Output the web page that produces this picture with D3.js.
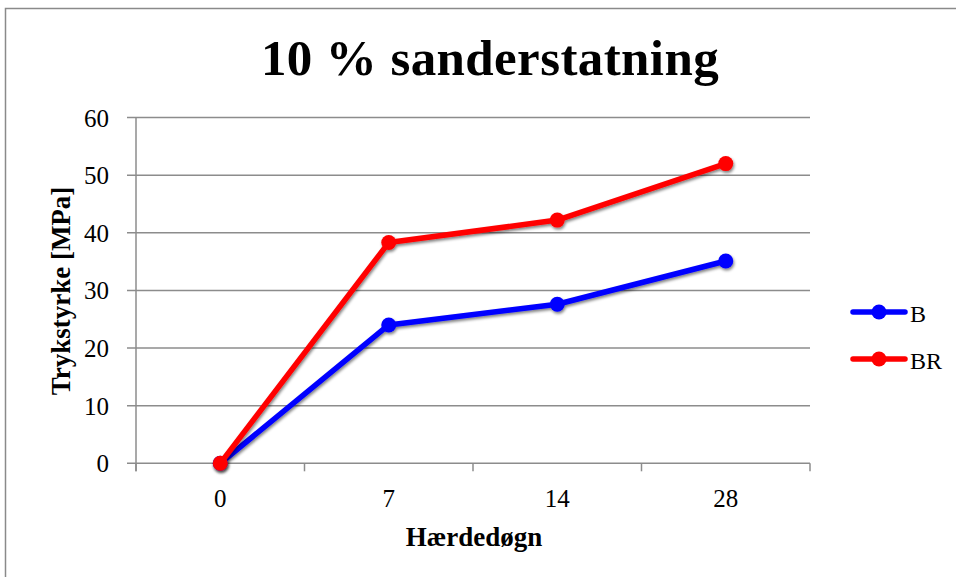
<!DOCTYPE html>
<html><head><meta charset="utf-8">
<script src="https://cdn.jsdelivr.net/npm/d3@7"></script>
<style>body{margin:0;background:#fff}svg{display:block}</style>
</head><body>
<svg id="c" width="956" height="577"></svg>
<script>
const categories = ["0", "7", "14", "28"];
const seriesB = [0, 24.0, 27.6, 35.1];
const seriesBR = [0, 38.3, 42.2, 52.0];
const yTicks = [0, 10, 20, 30, 40, 50, 60];
const seriesNames = ["B", "BR"];
const colors = ["#0000ff", "#ff0000"];

(function () {
const svg = d3.select("#c");
const serif = "'Liberation Serif','DejaVu Serif',serif";

// frame
svg.append("rect").attr("x", 5.5).attr("y", 8.5).attr("width", 960).attr("height", 600)
  .attr("fill", "#fff").attr("stroke", "#8a8a8a").attr("stroke-width", 1.5);

const defs = svg.append("defs");
const f = defs.append("filter").attr("id", "sh").attr("x", "-50%").attr("y", "-50%").attr("width", "200%").attr("height", "200%");
f.append("feGaussianBlur").attr("in", "SourceAlpha").attr("stdDeviation", 1.5).attr("result", "b");
f.append("feOffset").attr("in", "b").attr("dx", 1).attr("dy", 2).attr("result", "o");
f.append("feComponentTransfer").attr("in", "o").attr("result", "o2").append("feFuncA").attr("type", "linear").attr("slope", 0.5);
const m = f.append("feMerge");
m.append("feMergeNode").attr("in", "o2");
m.append("feMergeNode").attr("in", "SourceGraphic");

const pL = 136, pR = 810, pT = 117.5, pB = 463.3;
const x = d3.scaleBand().domain(categories).range([pL, pR]);
const y = d3.scaleLinear().domain([0, 60]).range([pB, pT]);

// gridlines
svg.append("g").selectAll("line").data(yTicks).join("line")
  .attr("x1", pL - 9).attr("x2", pR).attr("y1", d => y(d)).attr("y2", d => y(d))
  .attr("stroke", "#8c8c8c").attr("stroke-width", 1.5);

// y axis line
svg.append("line").attr("x1", pL).attr("x2", pL).attr("y1", pT).attr("y2", pB + 8)
  .attr("stroke", "#8c8c8c").attr("stroke-width", 1.5);

// x ticks
const xTickPos = categories.map(c => x(c)).concat([pR]);
svg.append("g").selectAll("line").data(xTickPos).join("line")
  .attr("x1", d => d).attr("x2", d => d).attr("y1", pB).attr("y2", pB + 8)
  .attr("stroke", "#8c8c8c").attr("stroke-width", 1.5);

// y tick labels
svg.append("g").selectAll("text").data(yTicks).join("text")
  .attr("x", pL - 27).attr("y", d => y(d) + 9).attr("text-anchor", "end")
  .attr("font-family", serif).attr("font-size", 25).attr("fill", "#000").text(d => d);

// x tick labels
svg.append("g").selectAll("text").data(categories).join("text")
  .attr("x", d => x(d) + x.bandwidth() / 2).attr("y", 507).attr("text-anchor", "middle")
  .attr("font-family", serif).attr("font-size", 25).attr("fill", "#000").text(d => d);

// titles
svg.append("text").attr("x", 490).attr("y", 75).attr("text-anchor", "middle")
  .attr("font-family", serif).attr("font-weight", "bold").attr("font-size", 51)
  .attr("letter-spacing", 0.4).text("10 % sanderstatning");
svg.append("text").attr("x", 474).attr("y", 546).attr("text-anchor", "middle")
  .attr("font-family", serif).attr("font-weight", "bold").attr("font-size", 27).text("Hærdedøgn");
svg.append("text").attr("transform", "translate(70,291) rotate(-90)").attr("text-anchor", "middle")
  .attr("font-family", serif).attr("font-weight", "bold").attr("font-size", 27).text("Trykstyrke [MPa]");

const line = d3.line().x((d, i) => x(categories[i]) + x.bandwidth() / 2).y(d => y(d));
const allSeries = [seriesB, seriesBR];
allSeries.forEach((s, k) => {
  const g = svg.append("g").attr("filter", "url(#sh)");
  g.append("path").attr("d", line(s)).attr("fill", "none").attr("stroke", colors[k])
    .attr("stroke-width", 5.5).attr("stroke-linejoin", "round");
  g.selectAll("circle").data(s).join("circle")
    .attr("cx", (d, i) => x(categories[i]) + x.bandwidth() / 2).attr("cy", d => y(d))
    .attr("r", 7.5).attr("fill", colors[k]);
});

// legend
const ly = [312, 359];
seriesNames.forEach((n, k) => {
  const g = svg.append("g");
  g.append("line").attr("x1", 853).attr("x2", 905).attr("y1", ly[k]).attr("y2", ly[k])
    .attr("stroke", colors[k]).attr("stroke-width", 5.5).attr("stroke-linecap", "round");
  g.append("circle").attr("cx", 879).attr("cy", ly[k]).attr("r", 7.5).attr("fill", colors[k]);
  g.append("text").attr("x", 910).attr("y", ly[k] + 10).attr("font-family", serif)
    .attr("font-size", 24).text(n);
});
})();
</script>
</body></html>
